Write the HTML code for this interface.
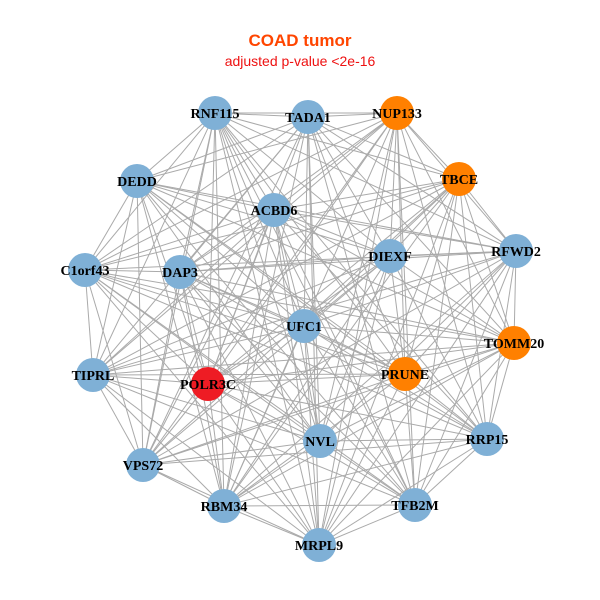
<!DOCTYPE html>
<html><head><meta charset="utf-8"><style>
html,body{margin:0;padding:0;background:#fff;width:600px;height:600px;overflow:hidden}
</style></head><body>
<svg id="g" width="600" height="600" xmlns="http://www.w3.org/2000/svg">
<text x="300" y="46" text-anchor="middle" font-family="Liberation Sans, sans-serif" font-weight="bold" font-size="17" fill="#ff4500">COAD tumor</text>
<text x="300" y="66" text-anchor="middle" font-family="Liberation Sans, sans-serif" font-size="14" fill="#ee1111">adjusted p-value &lt;2e-16</text>
<g id="edges" stroke="#aaaaaa" stroke-width="1"></g>
<g id="nodes"></g>
</svg>
<script>
var N=[["RNF115",215,113,"#7fb0d6"],["TADA1",308,117,"#7fb0d6"],["NUP133",397,113,"#ff8000"],["TBCE",459,179,"#ff8000"],["DEDD",137,181,"#7fb0d6"],["ACBD6",274,210,"#7fb0d6"],["DIEXF",390,256,"#7fb0d6"],["RFWD2",516,251,"#7fb0d6"],["C1orf43",85,270,"#7fb0d6"],["DAP3",180,272,"#7fb0d6"],["UFC1",304,326,"#7fb0d6"],["TOMM20",514,343,"#ff8000"],["TIPRL",93,375,"#7fb0d6"],["POLR3C",208,384,"#ee1c24"],["PRUNE",405,374,"#ff8000"],["NVL",320,441,"#7fb0d6"],["RRP15",487,439,"#7fb0d6"],["VPS72",143,465,"#7fb0d6"],["RBM34",224,506,"#7fb0d6"],["TFB2M",415,505,"#7fb0d6"],["MRPL9",319,545,"#7fb0d6"]];
var ns="http://www.w3.org/2000/svg",E=document.getElementById("edges"),G=document.getElementById("nodes");
for(var i=0;i<N.length;i++)for(var j=i+1;j<N.length;j++){if((i*7+j*3)%11==0)continue;var l=document.createElementNS(ns,"line");l.setAttribute("x1",N[i][1]);l.setAttribute("y1",N[i][2]);l.setAttribute("x2",N[j][1]);l.setAttribute("y2",N[j][2]);E.appendChild(l);}
N.forEach(function(n){var c=document.createElementNS(ns,"circle");c.setAttribute("cx",n[1]);c.setAttribute("cy",n[2]);c.setAttribute("r",17);c.setAttribute("fill",n[3]);G.appendChild(c);});
N.forEach(function(n){var t=document.createElementNS(ns,"text");t.setAttribute("x",n[1]);t.setAttribute("y",n[2]+5);t.setAttribute("text-anchor","middle");t.setAttribute("font-family","Liberation Serif, serif");t.setAttribute("font-weight","bold");t.setAttribute("font-size","14");t.textContent=n[0];G.appendChild(t);});
</script>
</body></html>
